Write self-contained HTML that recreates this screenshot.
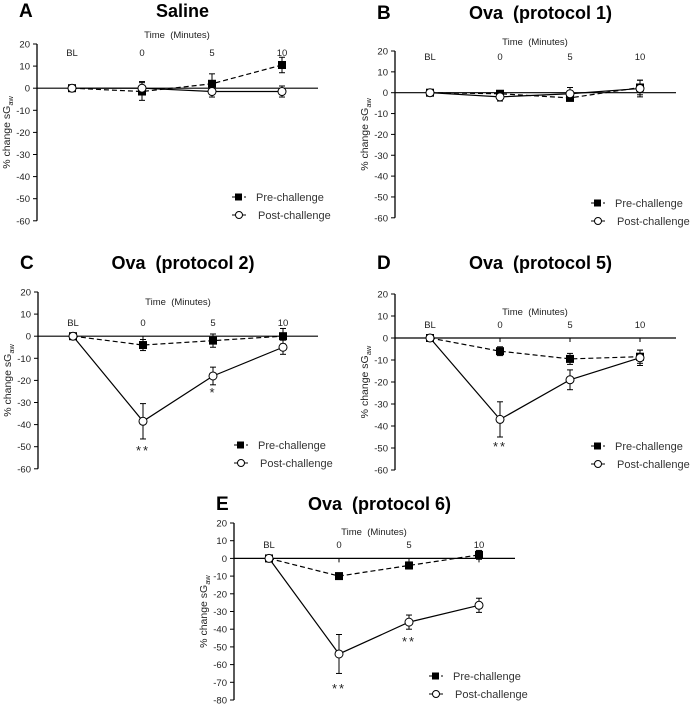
<!DOCTYPE html>
<html><head><meta charset="utf-8"><style>
body{margin:0;background:#fff;}
svg{display:block;font-family:"Liberation Sans",sans-serif;}
</style></head><body>
<svg id="fig" width="691" height="705" viewBox="0 0 691 705"></svg>
<script>
const categories=["BL","0","5","10"];
const preA=[0,-1.5,2,10.5], preAErr=[0,4,4.5,3.5], postA=[0,0,-1.5,-1.5], postAErr=[0,3,2.5,2.5];
const preB=[0,-0.5,-2.5,2.5], preBErr=[0,1,1,3.5], postB=[0,-2,-0.5,2], postBErr=[0,2,3,4];
const preC=[0,-4,-2,0], preCErr=[0,2.5,3,3.5], postC=[0,-38.5,-18,-5], postCErr=[0,8,4,3.2];
const preD=[0,-6,-9.5,-8.5], preDErr=[0,2,2.5,3], postD=[0,-37,-19,-9], postDErr=[0,8,4.5,3.5];
const preE=[0,-10,-4,2], preEErr=[0,1.5,2,2.5], postE=[0,-54,-36,-26.5], postEErr=[0,11,4,4];
const panels=[
 {id:"a",letter:"A",title:"Saline",ax:37,x0:72,dx:70,axEnd:318,yTop:44,yMax:20,yMin:-60,pxPer10:22.1,tY:10,timeY:38,catY:56,legX:238,legY:197,pre:preA,preE:preAErr,post:postA,postE:postAErr,stars:[]},
 {id:"b",letter:"B",title:"Ova\u00a0 (protocol 1)",ax:395,x0:430,dx:70,axEnd:676,yTop:51,yMax:20,yMin:-60,pxPer10:20.85,tY:12,timeY:45,catY:60,legX:597,legY:203,pre:preB,preE:preBErr,post:postB,postE:postBErr,stars:[]},
 {id:"c",letter:"C",title:"Ova\u00a0 (protocol 2)",ax:38,x0:73,dx:70,axEnd:318,yTop:292,yMax:20,yMin:-60,pxPer10:22.1,tY:262,timeY:305,catY:326,legX:240,legY:445,pre:preC,preE:preCErr,post:postC,postE:postCErr,stars:[[1,"**",455],[2,"*",397]]},
 {id:"d",letter:"D",title:"Ova\u00a0 (protocol 5)",ax:395,x0:430,dx:70,axEnd:676,yTop:294,yMax:20,yMin:-60,pxPer10:22,tY:262,timeY:315,catY:328,legX:597,legY:446,pre:preD,preE:preDErr,post:postD,postE:postDErr,stars:[[1,"**",451]]},
 {id:"e",letter:"E",title:"Ova\u00a0 (protocol 6)",ax:234,x0:269,dx:70,axEnd:515,yTop:523,yMax:20,yMin:-80,pxPer10:17.7,tY:503,timeY:535,catY:548,legX:435,legY:676,pre:preE,preE:preEErr,post:postE,postE:postEErr,stars:[[1,"**",693],[2,"**",646]]}
];
const NS="http://www.w3.org/2000/svg";
const svg=document.getElementById('fig');
function mk(tag,attrs,parent,text){const e=document.createElementNS(NS,tag);for(const k in attrs)e.setAttribute(k,attrs[k]);if(text!==undefined)e.textContent=text;(parent||svg).appendChild(e);return e;}
panels.forEach(p=>{
 const g=mk('g',{});
 
 
 const y=v=>p.yTop+(p.yMax-v)/10*p.pxPer10;
 const x=i=>p.x0+i*p.dx;
 const L=mk('text',{x:p.ax-18,y:p.tY+7,'font-size':19,'font-weight':'bold'},g,p.letter);
 
 const T=mk('text',{x:(p.ax+p.axEnd)/2+5,y:p.tY+7,'font-size':18,'font-weight':'bold','text-anchor':'middle'},g,p.title);
 
 const ya=mk('line',{x1:p.ax,y1:y(p.yMax),x2:p.ax,y2:y(p.yMin),stroke:'#000','stroke-width':1.3},g);
 
 for(let v=p.yMax;v>=p.yMin;v-=10){
  mk('line',{x1:p.ax-4,y1:y(v),x2:p.ax,y2:y(v),stroke:'#000'},g);
  const t=mk('text',{x:p.ax-7,y:y(v)+3.5,'font-size':9.5,'text-anchor':'end',fill:'#222'},g,String(v));
  
 }
 const yt=mk('text',{transform:`translate(${p.ax-27},${(y(p.yMax)+y(p.yMin))/2}) rotate(-90)`,'font-size':10.5,'text-anchor':'middle',fill:'#222'},g);
 yt.innerHTML='% change sG<tspan font-size="7.5" dy="3">aw</tspan>';
 
 const xa=mk('line',{x1:p.ax,y1:y(0),x2:p.axEnd,y2:y(0),stroke:'#000','stroke-width':1.2},g);
 
 categories.forEach((c,i)=>{
  mk('line',{x1:x(i),y1:y(0),x2:x(i),y2:y(0)+4,stroke:'#000'},g);
  const t=mk('text',{x:x(i),y:p.catY,'font-size':9.5,'text-anchor':'middle',fill:'#222'},g,c);
  
 });
 const tt=mk('text',{x:(x(1)+x(2))/2,y:p.timeY,'font-size':9.5,'text-anchor':'middle',fill:'#222'},g,'Time\u00a0 (Minutes)');
 
 function series(vals,errs,dashed,filled,name){
  const sg=mk('g',{},g);
  
  
  mk('polyline',{points:vals.map((v,i)=>x(i)+','+y(v)).join(' '),fill:'none',stroke:'#000','stroke-width':1.2,'stroke-dasharray':dashed?'5,3':'none'},sg);
  vals.forEach((v,i)=>{
   if(errs[i]>0){
    mk('line',{x1:x(i),y1:y(v+errs[i]),x2:x(i),y2:y(v-errs[i]),stroke:'#000'},sg);
    mk('line',{x1:x(i)-3,y1:y(v+errs[i]),x2:x(i)+3,y2:y(v+errs[i]),stroke:'#000'},sg);
    mk('line',{x1:x(i)-3,y1:y(v-errs[i]),x2:x(i)+3,y2:y(v-errs[i]),stroke:'#000'},sg);
   }
   let m;
   if(filled) m=mk('rect',{x:x(i)-4,y:y(v)-4,width:8,height:8,fill:'#000'},sg);
   else m=mk('circle',{cx:x(i),cy:y(v),r:4,fill:'#fff',stroke:'#000','stroke-width':1},sg);
   
   
  });
 }
 series(p.pre,p.preE,true,true,'pre-challenge-series');
 series(p.post,p.postE,false,false,'post-challenge-series');
 p.stars.forEach(s=>{
  const t=mk('text',{x:x(s[0]),y:s[2],'font-size':13,'text-anchor':'middle',fill:'#222','letter-spacing':'2'},g,s[1]);
  
 });
 const lg=mk('g',{},g);
 
 mk('line',{x1:p.legX-6,y1:p.legY,x2:p.legX+8,y2:p.legY,stroke:'#000','stroke-dasharray':'4,2'},lg);
 mk('rect',{x:p.legX-3,y:p.legY-3.5,width:7,height:7,fill:'#000'},lg);
 const t1=mk('text',{x:p.legX+18,y:p.legY+4,'font-size':11,fill:'#333'},lg,'Pre-challenge');
 
 mk('line',{x1:p.legX-6,y1:p.legY+18,x2:p.legX+8,y2:p.legY+18,stroke:'#000'},lg);
 mk('circle',{cx:p.legX+1,cy:p.legY+18,r:3.5,fill:'#fff',stroke:'#000'},lg);
 const t2=mk('text',{x:p.legX+20,y:p.legY+22,'font-size':11,fill:'#333'},lg,'Post-challenge');
 
});
</script>
</body></html>
